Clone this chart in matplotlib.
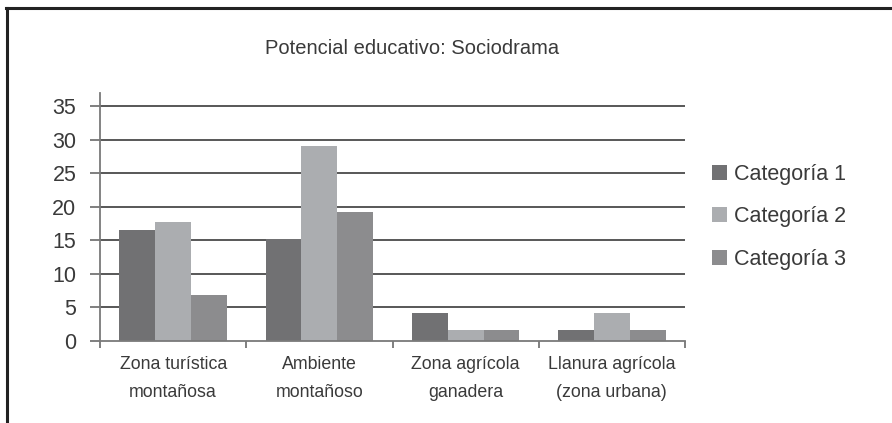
import matplotlib
matplotlib.use("Agg")
import matplotlib.pyplot as plt
import numpy as np
from matplotlib.lines import Line2D

categories = ["Zona turística\nmontañosa", "Ambiente\nmontañoso",
              "Zona agrícola\nganadera", "Llanura agrícola\n(zona urbana)"]
series_names = ["Categoría 1", "Categoría 2", "Categoría 3"]
cat1 = [16.6, 15.2, 4.2, 1.7]
cat2 = [17.7, 29.1, 1.7, 4.2]
cat3 = [6.9, 19.3, 1.7, 1.7]
y_ticks = [0, 5, 10, 15, 20, 25, 30, 35]
title = "Potencial educativo: Sociodrama"

colors = ["#717173", "#abadb0", "#8c8c8e"]
text_color = "#3a3a3a"

plt.rcParams['font.family'] = ['Liberation Sans', 'DejaVu Sans']

fig = plt.figure(figsize=(8.92, 4.23), dpi=100)
ax = fig.add_axes([100/892, 1-341/423, 585/892, (341-93)/423])

x = np.arange(len(categories))
w = 0.245
for i, (vals, name) in enumerate(zip([cat1, cat2, cat3], series_names)):
    ax.bar(x + (i-1)*w, vals, width=w, color=colors[i], label=name, zorder=3)

ax.set_xlim(-0.5, 3.5)
ax.set_ylim(0, 37)
ax.set_yticks(y_ticks)
ax.set_yticklabels([str(v) for v in y_ticks], fontsize=15.5, color=text_color)
for v in y_ticks[1:]:
    ax.axhline(v, color="#4a4a4a", lw=1.3, zorder=1)

ax.set_xticks(x)
ax.set_xticklabels(categories, fontsize=12.8, color=text_color, linespacing=1.82)
ax.set_xticks(np.arange(-0.5, 4.0, 1.0), minor=True)
ax.tick_params(axis='x', which='major', length=0, pad=11)
ax.tick_params(axis='x', which='minor', length=5, width=1.2, color="#6a6a6a", direction='out')
ax.tick_params(axis='y', which='major', length=7, width=1.2, color="#6a6a6a", direction='out', pad=10)

for s in ["top", "right"]:
    ax.spines[s].set_visible(False)
ax.spines["left"].set_color("#7a7a7a")
ax.spines["left"].set_linewidth(1.3)
ax.spines["bottom"].set_color("#7a7a7a")
ax.spines["bottom"].set_linewidth(1.3)
ax.spines["bottom"].set_zorder(4)

leg = fig.legend(loc="upper left", bbox_to_anchor=(703/892, 1-155/423), frameon=False,
                 fontsize=15.5, handlelength=0.7, handleheight=0.7, handletextpad=0.35,
                 labelspacing=1.0, borderaxespad=0)
for t in leg.get_texts():
    t.set_color(text_color)

fig.text(412/892, 1-48/423, title, ha="center", va="center", fontsize=14.5, color=text_color)

# frame lines (top and left)
fig.add_artist(Line2D([6/892, 1], [1-8/423, 1-8/423], color="#222222", lw=2.2, transform=fig.transFigure))
fig.add_artist(Line2D([7/892, 7/892], [0, 1-8/423], color="#222222", lw=2.2, transform=fig.transFigure))

fig.savefig("out.png", dpi=100)
